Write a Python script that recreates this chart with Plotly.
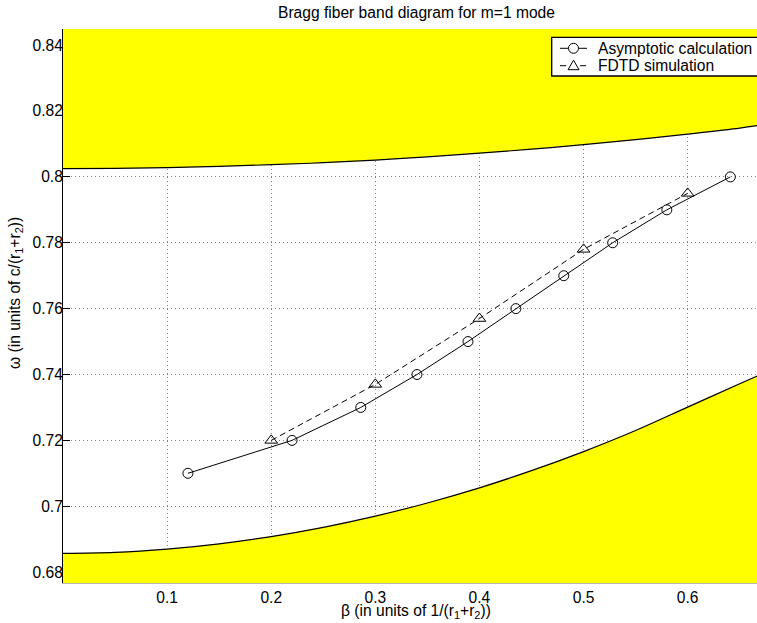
import plotly.graph_objects as go

# ---- data ----
beta_asym = [0.12, 0.22, 0.286, 0.34, 0.389, 0.435, 0.481, 0.528, 0.58, 0.641]
omega_asym = [0.710, 0.720, 0.730, 0.740, 0.750, 0.760, 0.770, 0.780, 0.790, 0.800]

beta_fdtd = [0.2, 0.3, 0.4, 0.5, 0.6]
omega_fdtd = [0.720, 0.737, 0.757, 0.778, 0.795]

band_beta = [0.0, 0.05, 0.1, 0.15, 0.2, 0.25, 0.3, 0.35, 0.4, 0.45, 0.5, 0.55, 0.6, 0.65, 0.668]
band_upper = [0.8025, 0.8026, 0.8028, 0.8032, 0.8037, 0.8043, 0.8051, 0.8061, 0.8072, 0.8084,
              0.8098, 0.8113, 0.8130, 0.8148, 0.8156]
band_lower = [0.6857, 0.6860, 0.6870, 0.6886, 0.6908, 0.6936, 0.6970, 0.7010, 0.7056, 0.7108,
              0.7166, 0.7230, 0.7301, 0.7372, 0.7397]

x_ticks = [0.1, 0.2, 0.3, 0.4, 0.5, 0.6]
x_ticktext = ["0.1", "0.2", "0.3", "0.4", "0.5", "0.6"]
y_ticks = [0.68, 0.70, 0.72, 0.74, 0.76, 0.78, 0.80, 0.82, 0.84]
y_ticktext = ["0.68", "0.7", "0.72", "0.74", "0.76", "0.78", "0.8", "0.82", "0.84"]

series_names = ["Asymptotic calculation", "FDTD simulation"]

x_range = [0.0, 0.6666]
y_range = [0.6767, 0.8449]

FONT = "Liberation Sans, Arial, Helvetica, sans-serif"
FS = 15.6
YELLOW = "#ffff00"

fig = go.Figure()

# upper band (fill up to beyond the top of the axes)
fig.add_trace(go.Scatter(x=band_beta, y=[y_range[1] + 0.05] * len(band_beta), mode="lines",
                         line=dict(width=0, color=YELLOW), showlegend=False, hoverinfo="skip"))
fig.add_trace(go.Scatter(x=band_beta, y=band_upper, mode="lines", fill="tonexty",
                         fillcolor=YELLOW, line=dict(color="black", width=1.2, shape="spline"),
                         showlegend=False, hoverinfo="skip"))
# lower band
fig.add_trace(go.Scatter(x=band_beta, y=[y_range[0] - 0.05] * len(band_beta), mode="lines",
                         line=dict(width=0, color=YELLOW), showlegend=False, hoverinfo="skip"))
fig.add_trace(go.Scatter(x=band_beta, y=band_lower, mode="lines", fill="tonexty",
                         fillcolor=YELLOW, line=dict(color="black", width=1.2, shape="spline"),
                         showlegend=False, hoverinfo="skip"))

fig.add_trace(go.Scatter(x=beta_asym, y=omega_asym, mode="lines+markers",
                         name=series_names[0], showlegend=False,
                         line=dict(color="black", width=1),
                         marker=dict(symbol="circle-open", size=10, color="black",
                                     line=dict(width=1, color="black"))))
fig.add_trace(go.Scatter(x=beta_fdtd, y=omega_fdtd, mode="lines+markers",
                         name=series_names[1], showlegend=False,
                         line=dict(color="black", width=1, dash="6px,4px"),
                         marker=dict(symbol="triangle-up-open", size=11, color="black",
                                     line=dict(width=1, color="black"))))

PL, PT, PB, PR = 63, 29, 583, 757          # plot area in page pixels
W, H = 757, 623
L, T = PL, PT
B = H - PB
plot_w = PR - PL
plot_h = PB - PT


def px(xp):
    return (xp - PL) / plot_w


def py(yp):
    return (PB - yp) / plot_h


fig.update_layout(
    width=W, height=H,
    margin=dict(l=L, r=0, t=T, b=B, pad=0, autoexpand=False),
    paper_bgcolor="white", plot_bgcolor="white",
    font=dict(family=FONT, size=FS, color="black"),
    showlegend=False,
    xaxis=dict(range=x_range, tickmode="array", tickvals=x_ticks, ticktext=x_ticktext,
               showgrid=True, gridcolor="#808080", griddash="1px,3px", gridwidth=1,
               zeroline=False, showline=True, linecolor="#b8b8b8", linewidth=1,
               ticks="inside", ticklen=7, tickcolor="black", layer="below traces",
               tickfont=dict(family=FONT, size=FS, color="black")),
    yaxis=dict(range=y_range, tickmode="array", tickvals=y_ticks, ticktext=y_ticktext,
               showgrid=True, gridcolor="#808080", griddash="1px,3px", gridwidth=1,
               zeroline=False, showline=True, linecolor="black", linewidth=1,
               ticks="inside", ticklen=7, tickcolor="black", layer="below traces",
               ticklabelstandoff=-4,
               tickfont=dict(family=FONT, size=FS, color="black")),
)

# ---- legend box (MATLAB style, extends past the right edge) ----
fig.add_shape(type="rect", xref="paper", yref="paper",
              x0=px(551.7), x1=px(775), y0=py(76), y1=py(37.3),
              line=dict(color="black", width=1.3), fillcolor="white", layer="above")
row_y = [48.3, 65.7]
for i, ry in enumerate(row_y):
    fig.add_shape(type="line", xref="paper", yref="paper",
                  x0=px(560), x1=px(587), y0=py(ry), y1=py(ry),
                  line=dict(color="black", width=1, dash="solid" if i == 0 else "6px,4px"),
                  layer="above")
    fig.add_annotation(text=series_names[i], xref="paper", yref="paper",
                       x=px(596), y=py(ry), xanchor="left", yanchor="middle",
                       showarrow=False, font=dict(family=FONT, size=FS, color="black"))
# legend markers
cx = 573.5
fig.add_shape(type="circle", xref="paper", yref="paper",
              x0=px(cx - 5), x1=px(cx + 5), y0=py(row_y[0] + 5), y1=py(row_y[0] - 5),
              line=dict(color="black", width=1), fillcolor="white", layer="above")
ty = row_y[1]
tri = "M {} {} L {} {} L {} {} Z".format(px(cx - 5.5), py(ty + 4), px(cx + 5.5), py(ty + 4),
                                         px(cx), py(ty - 5.5))
fig.add_shape(type="path", xref="paper", yref="paper", path=tri,
              line=dict(color="black", width=1), fillcolor="white", layer="above")

fig.add_annotation(text="Bragg fiber band diagram for m=1 mode", xref="paper", yref="paper",
                   x=px(416), y=py(12.7), xanchor="center", yanchor="middle",
                   showarrow=False, font=dict(family=FONT, size=FS, color="black"))
fig.add_annotation(text="β (in units of 1/(r<sub>1</sub>+r<sub>2</sub>))", xref="paper", yref="paper",
                   x=px(416), y=py(611), xanchor="center", yanchor="middle",
                   showarrow=False, font=dict(family=FONT, size=FS, color="black"))
fig.add_annotation(text="ω (in units of c/(r<sub>1</sub>+r<sub>2</sub>))", xref="paper", yref="paper",
                   x=px(15), y=py(293), xanchor="center", yanchor="middle",
                   textangle=-90, showarrow=False, font=dict(family=FONT, size=FS, color="black"))

fig.write_html(
    "out.html",
    config={"displayModeBar": False},
    post_script="document.body.style.margin='0';document.body.style.overflow='hidden';",
)
